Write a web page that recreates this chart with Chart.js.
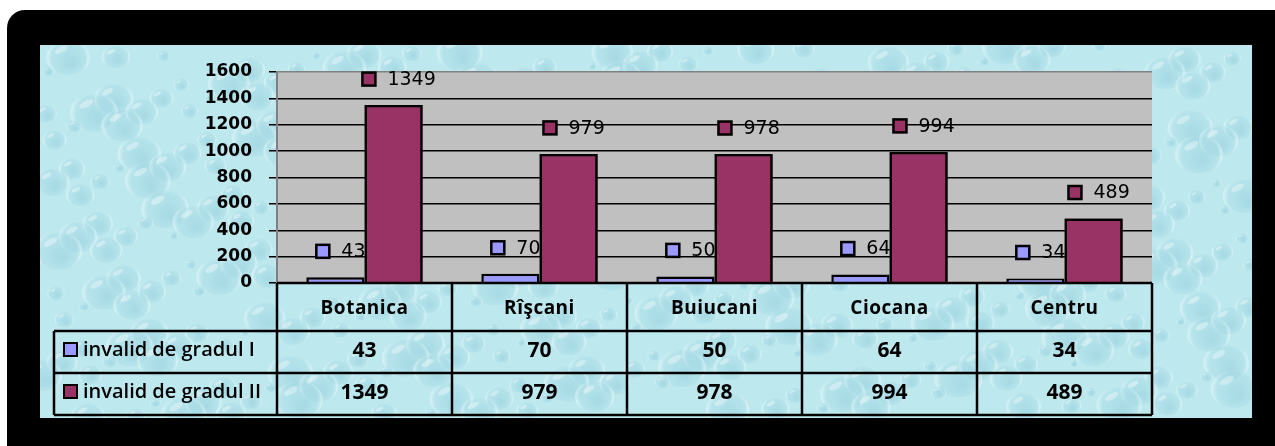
<!DOCTYPE html>
<html>
<head>
<meta charset="utf-8">
<script src="https://cdn.jsdelivr.net/npm/chart.js@4/dist/chart.umd.min.js"></script>
<style>
  html, body { margin: 0; padding: 0; background: #fff; }
  #wrap { width: 1275px; height: 446px; position: relative; }
</style>
</head>
<body>
<div id="wrap"><canvas id="chart" width="1275" height="446"></canvas></div>
<script>
const categories = ["Botanica", "Rîşcani", "Buiucani", "Ciocana", "Centru"];
const seriesNames = ["invalid de gradul I", "invalid de gradul II"];
const gradul1 = [43, 70, 50, 64, 34];
const gradul2 = [1349, 979, 978, 994, 489];
const yMax = 1600;
const yStep = 200;

const COLORS = ["#9999ff", "#993366"];

// page frame + water texture + grey plot area
const backdrop = {
  id: "backdrop",
  beforeDraw(chart) {
    const { ctx, chartArea: a } = chart;
    ctx.save();
    ctx.fillStyle = "#fff";
    ctx.fillRect(0, 0, chart.width, chart.height);
    ctx.fillStyle = "#000";
    ctx.beginPath();
    ctx.roundRect(7, 10, chart.width + 20, chart.height + 20, 18);
    ctx.fill();

    ctx.beginPath();
    ctx.rect(40, 45, 1212, 373);
    ctx.clip();
    ctx.fillStyle = "#bde8ee";
    ctx.fillRect(40, 45, 1212, 373);

    // water drops, spread with a fixed low-discrepancy sequence
    for (let i = 1; i < 420; i++) {
      const fx = (i * 0.6180339) % 1;
      const fy = (i * 0.7548776) % 1;
      const x = 40 + fx * 1212;
      const y = 45 + fy * 373;
      const r = 4 + ((i * 37) % 19);
      const rg = ctx.createRadialGradient(x + r * 0.2, y + r * 0.3, 1, x, y, r);
      rg.addColorStop(0, "rgba(125,192,210,0.35)");
      rg.addColorStop(0.8, "rgba(150,208,222,0.22)");
      rg.addColorStop(1, "rgba(235,250,252,0.4)");
      ctx.fillStyle = rg;
      ctx.beginPath();
      ctx.ellipse(x, y, r * 1.1, r * 0.85, 0, 0, Math.PI * 2);
      ctx.fill();
      ctx.fillStyle = "rgba(255,255,255,0.35)";
      ctx.beginPath();
      ctx.ellipse(x - r * 0.35, y - r * 0.4, r * 0.35, r * 0.15, -0.5, 0, Math.PI * 2);
      ctx.fill();
    }
    ctx.restore();

    ctx.save();
    ctx.fillStyle = "#c0c0c0";
    ctx.fillRect(a.left, a.top, a.right - a.left, a.bottom - a.top);
    ctx.restore();
  },
};

// value labels with legend keys above bars
const barLabels = {
  id: "barLabels",
  afterDatasetsDraw(chart) {
    const { ctx } = chart;
    ctx.save();
    ctx.font = "19px 'DejaVu Sans'";
    ctx.textBaseline = "middle";
    ctx.textAlign = "center";
    chart.data.datasets.forEach((ds, di) => {
      chart.getDatasetMeta(di).data.forEach((bar, i) => {
        const txt = String(ds.data[i]);
        const cx = bar.x + 18;
        const cy = bar.y - 26;
        const w = ctx.measureText(txt).width;
        const sqRight = cx - w / 2 - 12;
        ctx.fillStyle = COLORS[di];
        ctx.strokeStyle = "#000";
        ctx.lineWidth = 2.5;
        ctx.fillRect(sqRight - 13, cy - 6.5, 13, 13);
        ctx.strokeRect(sqRight - 13, cy - 6.5, 13, 13);
        ctx.fillStyle = "#000";
        ctx.fillText(txt, cx, cy + 1);
      });
    });
    // second series bars cover the first series labels, as in the original
    chart.getDatasetMeta(1).data.forEach((bar) => bar.draw(ctx));
    ctx.restore();
  },
};

// data table under the plot
const dataTable = {
  id: "dataTable",
  afterDraw(chart) {
    const { ctx, chartArea: a } = chart;
    const colW = (a.right - a.left) / categories.length;
    const rows = [a.bottom, 331, 373, 415];
    const legendLeft = 54;
    ctx.save();
    ctx.strokeStyle = "#000";
    ctx.lineWidth = 2.5;
    ctx.beginPath();
    ctx.moveTo(a.left, rows[0]);
    ctx.lineTo(a.right, rows[0]);
    for (let r = 1; r < rows.length; r++) {
      ctx.moveTo(legendLeft, rows[r]);
      ctx.lineTo(a.right, rows[r]);
    }
    for (let c = 0; c <= categories.length; c++) {
      const x = a.left + c * colW;
      ctx.moveTo(x, rows[0]);
      ctx.lineTo(x, rows[3]);
    }
    ctx.moveTo(legendLeft, rows[1]);
    ctx.lineTo(legendLeft, rows[3]);
    ctx.stroke();

    ctx.fillStyle = "#000";
    ctx.textAlign = "center";
    ctx.textBaseline = "alphabetic";
    ctx.font = "bold 19px 'Open Sans'";
    ctx.letterSpacing = "0.5px";
    categories.forEach((c, i) => {
      ctx.fillText(c, a.left + (i + 0.5) * colW, 314);
    });
    ctx.letterSpacing = "0px";
    ctx.font = "bold 21px 'Open Sans'";
    [gradul1, gradul2].forEach((vals, r) => {
      vals.forEach((v, i) => {
        ctx.fillText(String(v), a.left + (i + 0.5) * colW, [357, 399][r]);
      });
    });

    ctx.textAlign = "left";
    ctx.font = "600 20px 'Open Sans'";
    seriesNames.forEach((n, r) => {
      const base = [356, 398][r];
      ctx.fillStyle = COLORS[r];
      ctx.fillRect(64, base - 13, 13, 13);
      ctx.lineWidth = 2;
      ctx.strokeRect(64, base - 13, 13, 13);
      ctx.fillStyle = "#000";
      ctx.fillText(n, 83, base);
    });
    ctx.restore();
  },
};

new Chart(document.getElementById("chart"), {
  type: "bar",
  data: {
    labels: categories,
    datasets: [
      {
        label: seriesNames[0],
        data: gradul1,
        backgroundColor: COLORS[0],
        borderColor: "#000",
        borderWidth: 2.5,
        categoryPercentage: 0.665,
        barPercentage: 1,
      },
      {
        label: seriesNames[1],
        data: gradul2,
        backgroundColor: COLORS[1],
        borderColor: "#000",
        borderWidth: 2.5,
        categoryPercentage: 0.665,
        barPercentage: 1,
      },
    ],
  },
  options: {
    responsive: false,
    animation: false,
    layout: { padding: { left: 0, top: 72, right: 123, bottom: 163 } },
    plugins: {
      legend: { display: false },
      tooltip: { enabled: false },
    },
    scales: {
      x: { display: false },
      y: {
        min: 0,
        max: yMax,
        afterFit: (s) => { s.width = 277; },
        ticks: {
          stepSize: yStep,
          padding: 17,
          color: "#000",
          callback: (v) => String(v),
          font: { family: "'DejaVu Sans'", size: 17, weight: "bold" },
        },
        grid: {
          color: (c) => (c.tick && c.tick.value === yMax ? "#808080" : "#000"),
          lineWidth: 1.5,
          tickLength: 8,
          tickColor: "#000",
        },
        border: { display: true, color: "#808080", width: 2 },
      },
    },
  },
  plugins: [backdrop, barLabels, dataTable],
});
</script>
</body>
</html>
